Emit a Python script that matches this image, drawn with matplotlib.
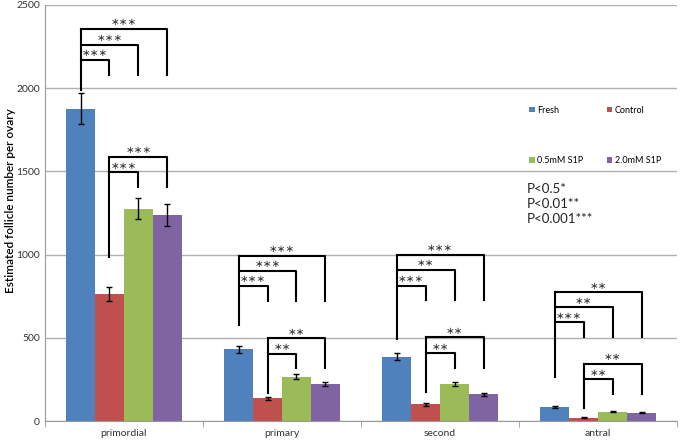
import numpy as np
import matplotlib
matplotlib.use('Agg')
import matplotlib.pyplot as plt

plt.rcParams['font.family'] = ['Lato', 'DejaVu Sans']

categories = ['primordial', 'primary', 'second', 'antral']
series = ['Fresh', 'Control', '0.5mM S1P', '2.0mM S1P']
colors = ['#4F81BD', '#C0504D', '#9BBB59', '#8064A2']

fresh = [1875, 431, 387, 84]
control = [763, 136, 100, 20]
s1p_05 = [1274, 266, 220, 56]
s1p_20 = [1238, 224, 162, 50]
fresh_err = [93, 22, 20, 5]
control_err = [40, 10, 8, 2]
s1p_05_err = [63, 14, 12, 4]
s1p_20_err = [64, 12, 9, 4]

# significance brackets: base of the long leg, level of each arm, where the arms drop to
fresh_base = [1990, 577, 491, 266]
fresh_levels = [[2170, 2260, 2355], [811, 903, 993], [813, 907, 998], [593, 683, 773]]
fresh_drop = [2080, 723, 727, 503]
fresh_stars = [['***', '***', '***'], ['***', '***', '***'],
               ['***', '**', '***'], ['***', '**', '**']]
ctrl_base = [987, 170, 176, 76]
ctrl_levels = [[1495, 1588], [403, 497], [407, 503], [250, 342]]
ctrl_drop = [1408, 317, 317, 162]
ctrl_stars = [['***', '***'], ['**', '**'], ['**', '**'], ['**', '**']]

values = [fresh, control, s1p_05, s1p_20]
errs = [fresh_err, control_err, s1p_05_err, s1p_20_err]

fig = plt.figure(figsize=(6.8, 4.4), dpi=100)
ax = fig.add_axes([0.066, 0.043, 0.93, 0.946])

x = np.arange(len(categories))
w = 0.183
offs = (np.arange(4) - 1.5) * w
for i in range(4):
    ax.bar(x + offs[i], values[i], w, color=colors[i], label=series[i], zorder=2)
    ax.errorbar(x + offs[i], values[i], yerr=errs[i], fmt='none', ecolor='black',
                elinewidth=1, capsize=2.5, capthick=1, zorder=3)


def bracket(xs, base, levels, drop, labels):
    x0 = xs[0]
    ax.plot([x0, x0], [base, max(levels)], color='black', lw=1.5, zorder=4)
    for xe, lv, lb in zip(xs[1:], levels, labels):
        ax.plot([x0, xe, xe], [lv, lv, drop], color='black', lw=1.5, zorder=4)
        ax.text((x0 + xe) / 2, lv + 10, lb.replace('*', '\u2217'),
                ha='center', va='bottom', fontsize=7.5, color='#333333',
                family='DejaVu Sans')


for k in range(len(categories)):
    bx = x[k] + offs
    bracket([bx[0], bx[1], bx[2], bx[3]], fresh_base[k], fresh_levels[k],
            fresh_drop[k], fresh_stars[k])
    bracket([bx[1], bx[2], bx[3]], ctrl_base[k], ctrl_levels[k],
            ctrl_drop[k], ctrl_stars[k])

ax.set_xlim(-0.5, 3.5)
ax.set_ylim(0, 2500)
ax.set_yticks(np.arange(0, 2501, 500))
ax.yaxis.grid(True, color='#b0b0b0', lw=1)
ax.set_axisbelow(True)
ax.set_xticks(x)
ax.set_xticklabels(categories, fontsize=7.5, color='#333333')
ax.set_xticks(np.arange(-0.5, 4, 1), minor=True)
ax.tick_params(axis='x', which='major', length=0, pad=6)
ax.tick_params(axis='x', which='minor', length=4, color='#999999')
ax.tick_params(axis='y', length=0, labelsize=7.5, labelcolor='#333333')
for s in ['top', 'right']:
    ax.spines[s].set_visible(False)
for s in ['left', 'bottom']:
    ax.spines[s].set_color('#999999')
ax.set_ylabel('Estimated follicle number per ovary', fontsize=8.5,
              fontweight='semibold', labelpad=6)
ax.yaxis.set_label_coords(-0.045, 0.53)

# order legend as Fresh, Control / 0.5mM, 2.0mM
handles, labs = ax.get_legend_handles_labels()
order = [0, 2, 1, 3]
ax.legend([handles[i] for i in order], [labs[i] for i in order], ncol=2,
          loc='upper left', bbox_to_anchor=(0.753, 0.777), frameon=False,
          fontsize=6.5, handlelength=0.6, handleheight=0.6, handletextpad=0.3,
          columnspacing=2.6, labelspacing=4.6)

ax.text(0.762, 0.571, 'P<0.5*\nP<0.01**\nP<0.001***', transform=ax.transAxes,
        fontsize=9.5, va='top', ha='left', linespacing=1.3, color='#222222')

fig.savefig('out.png', dpi=100)
